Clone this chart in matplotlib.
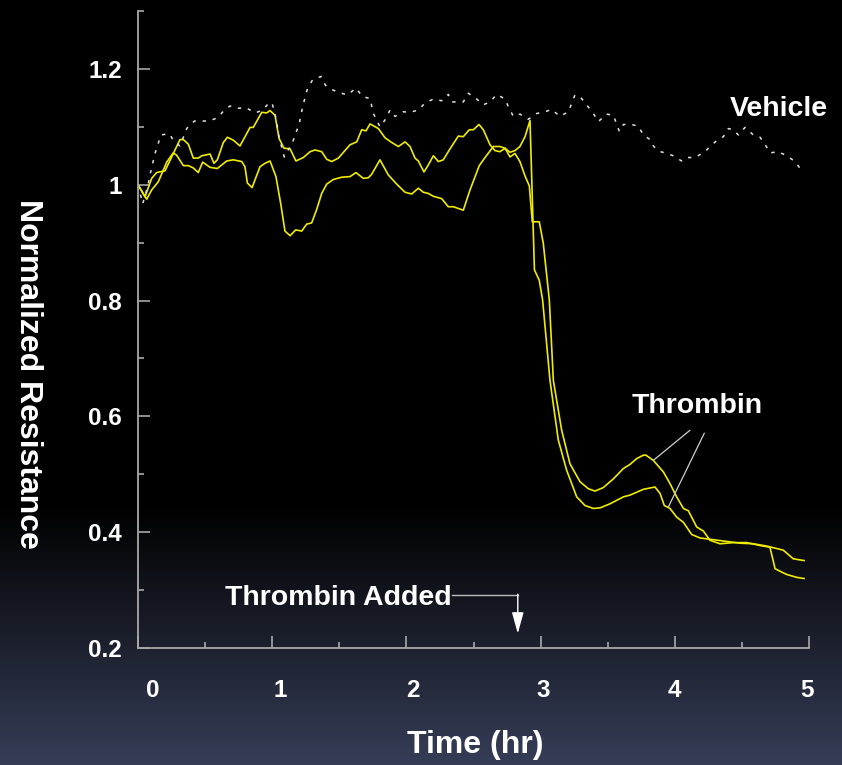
import numpy as np
import matplotlib
matplotlib.use('Agg')
import matplotlib.pyplot as plt
from matplotlib.transforms import ScaledTranslation

# =============================================================================
# Data: normalized resistance vs time (hr)
# =============================================================================
time_a = [0.000, 0.052, 0.102, 0.139, 0.201, 0.251, 0.313, 0.338, 0.375, 0.412,
          0.449, 0.475, 0.537, 0.566, 0.591, 0.636, 0.666, 0.710, 0.760, 0.835,
          0.859, 0.922, 0.959, 0.984, 1.021, 1.051, 1.088, 1.133, 1.177, 1.232,
          1.282, 1.319, 1.369, 1.406, 1.443, 1.493, 1.580, 1.630, 1.667, 1.699,
          1.729, 1.791, 1.841, 1.890, 1.940, 1.990, 2.027, 2.064, 2.089, 2.131,
          2.163, 2.201, 2.238, 2.275, 2.325, 2.387, 2.424, 2.469, 2.499, 2.541,
          2.573, 2.623, 2.660, 2.697, 2.735, 2.772, 2.809, 2.846, 2.884, 2.916,
          2.938, 2.990, 3.020, 3.065, 3.095, 3.157, 3.219, 3.294, 3.356, 3.405,
          3.467, 3.542, 3.617, 3.666, 3.716, 3.766, 3.785, 3.840, 3.915, 3.964,
          4.014, 4.064, 4.101, 4.163, 4.213, 4.262, 4.337, 4.436, 4.536, 4.635,
          4.709, 4.747, 4.797, 4.834, 4.908, 4.963]
res_a = [1.000, 0.979, 1.011, 1.021, 1.024, 1.048, 1.078, 1.078, 1.070, 1.046,
         1.046, 1.050, 1.053, 1.037, 1.043, 1.073, 1.082, 1.077, 1.067, 1.099,
         1.099, 1.125, 1.124, 1.128, 1.120, 1.080, 1.063, 1.062, 1.041, 1.047,
         1.057, 1.060, 1.057, 1.044, 1.040, 1.046, 1.069, 1.074, 1.095, 1.093,
         1.105, 1.097, 1.081, 1.073, 1.066, 1.074, 1.066, 1.046, 1.041, 1.022,
         1.034, 1.050, 1.040, 1.043, 1.062, 1.084, 1.083, 1.095, 1.095, 1.104,
         1.095, 1.069, 1.059, 1.057, 1.063, 1.048, 1.054, 1.040, 1.015, 0.998,
         0.936, 0.936, 0.899, 0.801, 0.662, 0.576, 0.518, 0.487, 0.475, 0.471,
         0.477, 0.492, 0.510, 0.517, 0.527, 0.533, 0.533, 0.524, 0.504, 0.484,
         0.461, 0.441, 0.437, 0.409, 0.402, 0.386, 0.380, 0.382, 0.382, 0.377,
         0.374, 0.337, 0.331, 0.327, 0.322, 0.320]

time_b = [0.000, 0.065, 0.102, 0.151, 0.214, 0.263, 0.288, 0.338, 0.375, 0.412,
          0.449, 0.482, 0.537, 0.591, 0.661, 0.710, 0.773, 0.797, 0.815, 0.850,
          0.909, 0.946, 0.984, 1.028, 1.063, 1.095, 1.133, 1.175, 1.220, 1.257,
          1.294, 1.331, 1.369, 1.406, 1.455, 1.518, 1.580, 1.624, 1.679, 1.716,
          1.741, 1.803, 1.865, 1.928, 1.990, 2.039, 2.089, 2.126, 2.163, 2.201,
          2.263, 2.312, 2.350, 2.424, 2.474, 2.543, 2.586, 2.648, 2.697, 2.735,
          2.772, 2.809, 2.846, 2.884, 2.921, 2.954, 2.990, 3.015, 3.070, 3.132,
          3.194, 3.269, 3.331, 3.393, 3.443, 3.517, 3.617, 3.666, 3.766, 3.852,
          3.890, 3.922, 3.964, 4.014, 4.064, 4.126, 4.188, 4.287, 4.387, 4.486,
          4.585, 4.685, 4.808, 4.883, 4.963]
res_b = [1.000, 0.975, 0.991, 1.005, 1.039, 1.055, 1.051, 1.033, 1.033, 1.029,
         1.021, 1.039, 1.030, 1.028, 1.041, 1.043, 1.040, 1.031, 1.003, 0.995,
         1.031, 1.037, 1.041, 1.014, 0.968, 0.920, 0.912, 0.922, 0.920, 0.932,
         0.934, 0.957, 0.985, 1.001, 1.009, 1.013, 1.014, 1.021, 1.011, 1.012,
         1.018, 1.043, 1.017, 1.001, 0.987, 0.984, 0.994, 0.987, 0.985, 0.980,
         0.976, 0.962, 0.962, 0.956, 0.991, 1.033, 1.047, 1.066, 1.066, 1.063,
         1.056, 1.059, 1.066, 1.083, 1.111, 0.853, 0.835, 0.801, 0.662, 0.559,
         0.507, 0.461, 0.446, 0.441, 0.442, 0.449, 0.461, 0.464, 0.474, 0.478,
         0.467, 0.446, 0.441, 0.426, 0.417, 0.396, 0.390, 0.387, 0.384, 0.381,
         0.380, 0.376, 0.369, 0.354, 0.351]

time_veh = [0.000, 0.035, 0.072, 0.097, 0.127, 0.171, 0.233, 0.271, 0.313, 0.363,
            0.420, 0.482, 0.532, 0.594, 0.644, 0.686, 0.743, 0.805, 0.874, 0.929,
            0.979, 0.999, 1.028, 1.053, 1.090, 1.153, 1.202, 1.227, 1.264, 1.301,
            1.364, 1.396, 1.438, 1.500, 1.562, 1.624, 1.674, 1.729, 1.754, 1.803,
            1.841, 1.878, 1.915, 1.977, 2.027, 2.089, 2.139, 2.201, 2.263, 2.312,
            2.337, 2.375, 2.424, 2.461, 2.524, 2.573, 2.623, 2.673, 2.735, 2.759,
            2.797, 2.846, 2.908, 2.971, 3.033, 3.082, 3.145, 3.207, 3.256, 3.294,
            3.343, 3.393, 3.430, 3.492, 3.542, 3.587, 3.617, 3.679, 3.728, 3.766,
            3.815, 3.840, 3.878, 3.927, 3.989, 4.051, 4.089, 4.150, 4.225, 4.262,
            4.312, 4.362, 4.399, 4.436, 4.473, 4.523, 4.585, 4.635, 4.672, 4.709,
            4.771, 4.834, 4.896, 4.953]
res_veh = [1.000, 0.967, 0.997, 1.025, 1.054, 1.086, 1.088, 1.074, 1.067, 1.097,
           1.110, 1.110, 1.110, 1.116, 1.129, 1.136, 1.132, 1.133, 1.124, 1.129,
           1.142, 1.141, 1.115, 1.080, 1.048, 1.074, 1.106, 1.135, 1.167, 1.181,
           1.187, 1.172, 1.165, 1.159, 1.155, 1.167, 1.152, 1.149, 1.123, 1.100,
           1.112, 1.129, 1.118, 1.126, 1.125, 1.129, 1.141, 1.148, 1.145, 1.156,
           1.143, 1.143, 1.143, 1.158, 1.148, 1.138, 1.143, 1.156, 1.148, 1.135,
           1.118, 1.122, 1.113, 1.123, 1.126, 1.130, 1.118, 1.126, 1.155, 1.152,
           1.138, 1.123, 1.109, 1.122, 1.120, 1.092, 1.104, 1.104, 1.101, 1.086,
           1.078, 1.067, 1.058, 1.055, 1.050, 1.041, 1.047, 1.047, 1.057, 1.066,
           1.076, 1.083, 1.097, 1.095, 1.086, 1.099, 1.086, 1.082, 1.070, 1.055,
           1.057, 1.050, 1.040, 1.022]

hours = [0, 1, 2, 3, 4, 5]
half_hours = [0.5, 1.5, 2.5, 3.5, 4.5]
res_ticks = [0.2, 0.4, 0.6, 0.8, 1.0, 1.2]
res_tick_labels = ['0.2', '0.4', '0.6', '0.8', '1', '1.2']
res_minor = [0.3, 0.5, 0.7, 0.9, 1.1, 1.3]

thrombin_added_hr = 2.83

# =============================================================================
# Figure
# =============================================================================
plt.rcParams['font.family'] = ['Liberation Sans', 'DejaVu Sans']
plt.rcParams['font.weight'] = 'bold'

W, H = 842, 765
fig = plt.figure(figsize=(W / 100, H / 100), dpi=100)
fig.patch.set_facecolor('black')

# slide background: black, fading into slate blue near the bottom
bg = fig.add_axes([0, 0, 1, 1], zorder=-10)
rows = np.linspace(0, 1, H)
fade = np.clip((rows - 0.66) / 0.34, 0, 1)
bottom_col = np.array([0.21, 0.24, 0.34])
img = fade[:, None, None] * bottom_col[None, None, :]
bg.imshow(img, aspect='auto', extent=[0, 1, 0, 1], interpolation='bilinear')
bg.axis('off')

ax = fig.add_axes([138 / W, 117 / H, 671 / W, 637 / H])
ax.patch.set_alpha(0)

yellow = '#f0ec00'
ax.plot(time_a, res_a, color=yellow, lw=1.2)
ax.plot(time_b, res_b, color=yellow, lw=1.2)
ax.plot(time_veh, res_veh, color='#e0e0e0', lw=1.1, dashes=(2.2, 4.5))

ax.set_xlim(0, 5)
ax.set_ylim(0.2, 1.3)

for s in ['top', 'right']:
    ax.spines[s].set_visible(False)
for s in ['left', 'bottom']:
    ax.spines[s].set_color('#a8a8a8')
    ax.spines[s].set_linewidth(1.3)

ax.set_xticks(hours)
ax.set_xticks(half_hours, minor=True)
ax.set_yticks(res_ticks)
ax.set_yticklabels(res_tick_labels)
ax.set_yticks(res_minor, minor=True)

ax.tick_params(which='both', direction='in', color='#a8a8a8', width=1.2,
               labelcolor='white', labelsize=17.5)
ax.tick_params(which='major', length=8.6)
ax.tick_params(which='minor', length=4.3)
ax.tick_params(axis='y', which='major', pad=11.5)
ax.tick_params(axis='x', which='major', pad=22)

# nudge the hour labels so they sit evenly spaced
nudge = [15, 8, 6, 3, 0, -2]
for lab, dx in zip(ax.get_xticklabels(), nudge):
    lab.set_transform(lab.get_transform() + ScaledTranslation(dx / 100, 0, fig.dpi_scale_trans))

# annotations
ann_size = 20.5
ax.text(4.411, 1.118, 'Vehicle', color='white', fontsize=ann_size, ha='left', va='baseline')
ax.text(3.679, 0.605, 'Thrombin', color='white', fontsize=ann_size, ha='left', va='baseline')

lead = dict(arrowstyle='-', color='#cfcfcf', lw=0.9, shrinkA=0, shrinkB=0)
ax.annotate('', xy=(3.84, np.interp(3.84, time_a, res_a)), xytext=(4.113, 0.576), arrowprops=lead)
ax.annotate('', xy=(3.95, np.interp(3.95, time_b, res_b)), xytext=(4.220, 0.571), arrowprops=lead)

ax.text(2.338, 0.2735, 'Thrombin Added', color='white', fontsize=ann_size, ha='right', va='baseline')
ax.plot([2.338, thrombin_added_hr], [0.292, 0.292], color='#bdbdbd', lw=1.0)
ax.annotate('', xy=(thrombin_added_hr, 0.225), xytext=(thrombin_added_hr, 0.293),
            arrowprops=dict(arrowstyle='-|>,head_length=0.65,head_width=0.18',
                            mutation_scale=20, color='white', lw=1.0,
                            shrinkA=0, shrinkB=0))

fig.text(28 / W, 1 - 374 / H, 'Normalized Resistance', color='white', fontsize=23,
         rotation=270, ha='center', va='center')
fig.text(475 / W, 1 - 745 / H, 'Time (hr)', color='white', fontsize=23,
         ha='center', va='center')

fig.savefig('out.png', dpi=100, facecolor=fig.get_facecolor())
